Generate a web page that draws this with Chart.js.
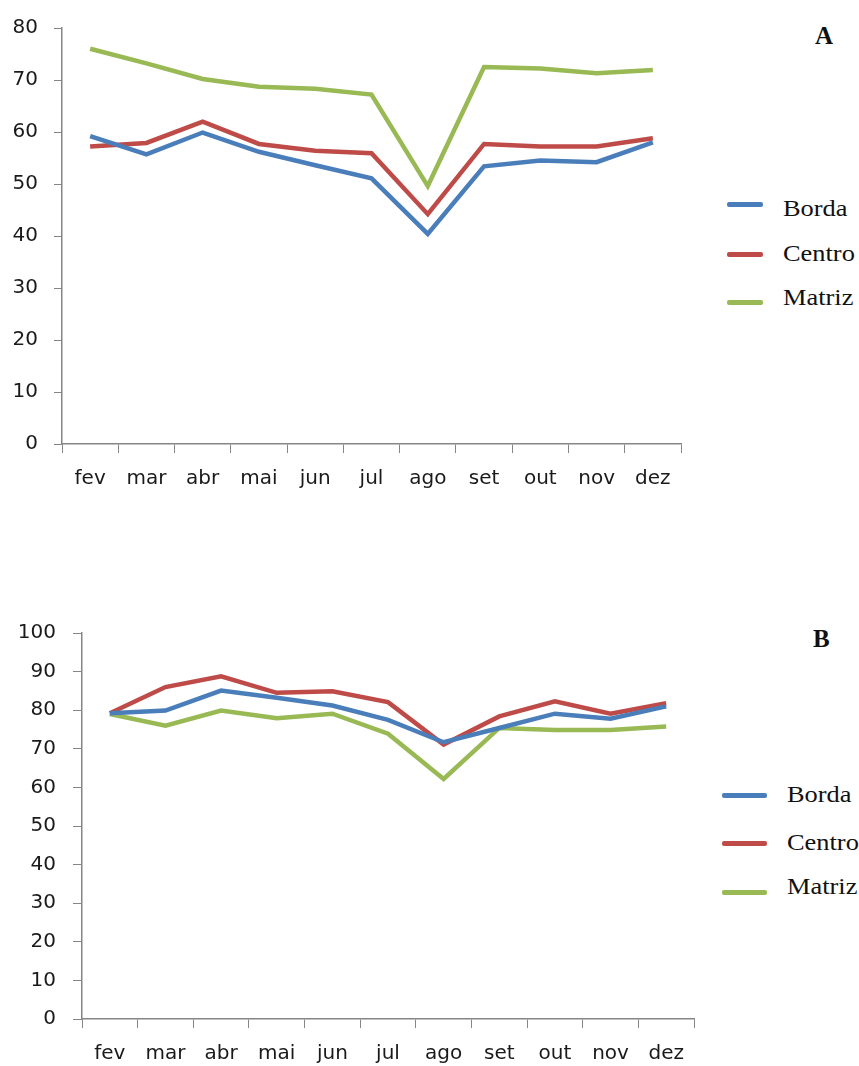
<!DOCTYPE html>
<html>
<head>
<meta charset="utf-8">
<script src="https://cdn.jsdelivr.net/npm/chart.js@4.4.1/dist/chart.umd.min.js"></script>
<style>
    body { margin: 0; background: #fff; width: 859px; height: 1066px; position: relative; overflow: hidden; }
    .wrap { position: absolute; }
    .panel-letter { position: absolute; font-family: "Liberation Serif", "Times New Roman", serif; font-weight: bold; font-size: 25px; color: #111; }
    .leg-line { position: absolute; height: 5px; border-radius: 2px; }
    .leg-text { position: absolute; font-family: "Liberation Serif", "Times New Roman", serif; font-size: 24px; color: #111; transform: scaleX(1.1); transform-origin: left center; line-height: 1; }
</style>
</head>
<body>

<div class="wrap" id="wrapA" style="left:0;top:0;width:700px;height:500px"><canvas id="chartA"></canvas></div>
<div class="wrap" id="wrapB" style="left:0;top:600px;width:720px;height:466px"><canvas id="chartB"></canvas></div>

<div class="panel-letter" style="left:815px;top:22px">A</div>
<div class="panel-letter" style="left:813px;top:625px">B</div>

<script>
// Data
const months = ['fev', 'mar', 'abr', 'mai', 'jun', 'jul', 'ago', 'set', 'out', 'nov', 'dez'];
const seriesNames = ['Borda', 'Centro', 'Matriz'];
const seriesColors = ['#4a7ebb', '#be4b48', '#98b954'];

// Panel A
const bordaA = [59.2, 55.7, 59.9, 56.2, 53.6, 51.1, 40.4, 53.4, 54.5, 54.2, 58.0];
const centroA = [57.2, 57.9, 62.0, 57.7, 56.4, 55.9, 44.2, 57.7, 57.2, 57.2, 58.8];
const matrizA = [76.0, 73.2, 70.2, 68.7, 68.3, 67.2, 49.6, 72.5, 72.2, 71.3, 71.9];

// Panel B
const bordaB = [79.2, 79.9, 85.1, 83.2, 81.2, 77.5, 71.7, 75.4, 79.1, 77.8, 81.0];
const centroB = [79.2, 86.0, 88.8, 84.5, 84.9, 82.1, 71.1, 78.4, 82.3, 79.1, 81.8];
const matrizB = [79.0, 76.0, 79.9, 77.9, 79.1, 73.9, 62.2, 75.4, 74.9, 74.9, 75.8];

const axisColor = '#868686';
const tickFont = { family: '"DejaVu Sans", sans-serif', size: 20 };

function makeChart(canvasId, values, yMax, cfg) {
    const datasets = values.map((data, i) => ({
        label: seriesNames[i],
        data: data,
        borderColor: seriesColors[i],
        backgroundColor: seriesColors[i],
        borderWidth: 4.5,
        pointRadius: 0,
        tension: 0,
        fill: false,
    }));

    return new Chart(document.getElementById(canvasId), {
        type: 'line',
        data: { labels: months, datasets: datasets },
        options: {
            responsive: true,
            maintainAspectRatio: false,
            animation: false,
            layout: { padding: { top: cfg.top, right: cfg.right, left: 0, bottom: 0 } },
            plugins: { legend: { display: false }, tooltip: { enabled: false } },
            scales: {
                x: {
                    offset: true,
                    grid: { offset: true, drawOnChartArea: false, drawTicks: true, tickLength: 9, color: axisColor },
                    border: { color: axisColor, width: 1.5 },
                    ticks: { color: '#1a1a1a', font: tickFont, padding: cfg.xPad, maxRotation: 0, autoSkip: false },
                    afterFit: (scale) => { scale.height = cfg.xHeight; },
                },
                y: {
                    min: 0,
                    max: yMax,
                    grid: { drawOnChartArea: false, drawTicks: true, tickLength: cfg.yTick, color: axisColor },
                    border: { color: axisColor, width: 1.5 },
                    ticks: { stepSize: 10, color: '#1a1a1a', font: tickFont, padding: cfg.yPad },
                    afterFit: (scale) => { scale.width = cfg.yWidth; },
                },
            },
        },
    });
}

const chartA = makeChart('chartA', [bordaA, centroA, matrizA], 80,
    { top: 26, right: 19, xHeight: 56, xPad: 14, yWidth: 62, yTick: 8, yPad: 16 });

const chartB = makeChart('chartB', [bordaB, centroB, matrizB], 100,
    { top: 33, right: 26, xHeight: 47, xPad: 14, yWidth: 82, yTick: 9, yPad: 17 });

// Legends (HTML, built from the series arrays)
function addLegend(lineX, lineW, textX, lineYs, textYs) {
    seriesNames.forEach((name, i) => {
        const line = document.createElement('div');
        line.className = 'leg-line';
        line.style.left = lineX + 'px';
        line.style.width = lineW + 'px';
        line.style.top = (lineYs[i] - 2) + 'px';
        line.style.background = seriesColors[i];
        document.body.appendChild(line);

        const text = document.createElement('div');
        text.className = 'leg-text';
        text.textContent = name;
        text.style.left = textX + 'px';
        text.style.top = (textYs[i] - 14) + 'px';
        document.body.appendChild(text);
    });
}

addLegend(727, 36, 783, [204, 254, 302], [210, 255, 299]);
addLegend(722, 45, 787, [795, 843, 892], [796, 844, 888]);
</script>
</body>
</html>
